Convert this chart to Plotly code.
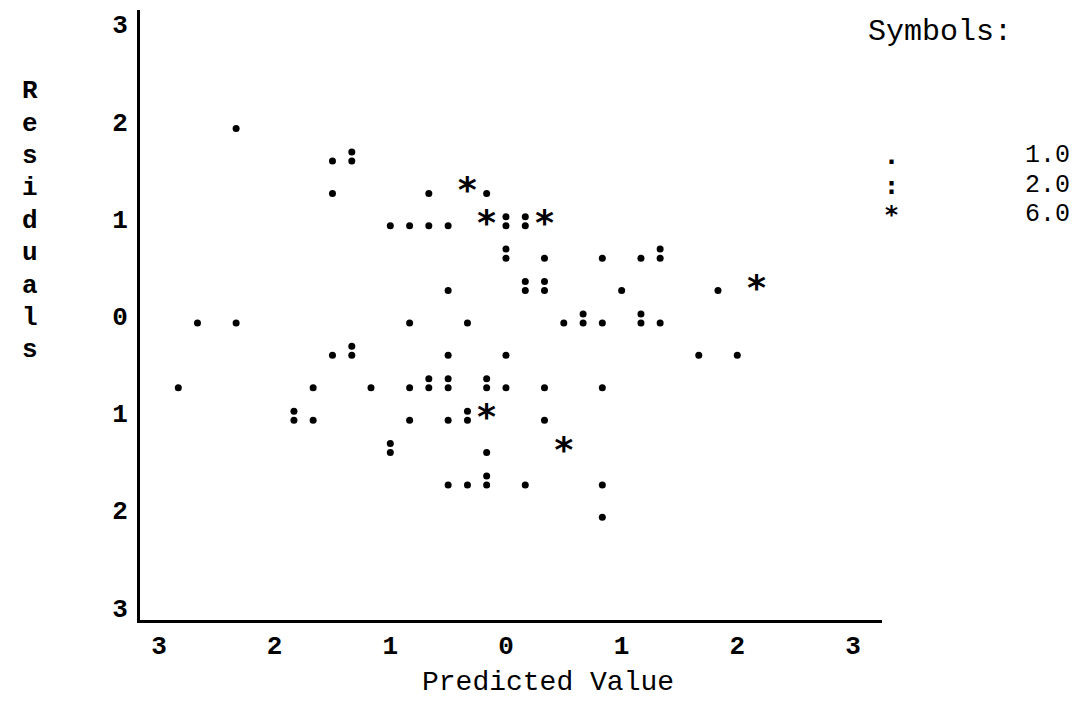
import plotly.graph_objects as go

# ---- data (x: predicted value, y: residual, n: cases at that cell) ----
predicted = [
    -2.333,
    -1.5, -1.333,
    -1.5, -0.667, -0.333, -0.167,
    -1.0, -0.833, -0.667, -0.5, -0.167, 0.0, 0.167, 0.333,
    0.0, 0.333, 0.833, 1.167, 1.333,
    -0.5, 0.167, 0.333, 1.0, 1.833, 2.167,
    -2.667, -2.333, -0.833, -0.333, 0.5, 0.667, 0.833, 1.167, 1.333,
    -1.5, -1.333, -0.5, 0.0, 1.667, 2.0,
    -2.833, -1.667, -1.167, -0.833, -0.667, -0.5, -0.167, 0.0, 0.333, 0.833,
    -1.833, -1.667, -0.833, -0.5, -0.333, -0.167, 0.333,
    -1.0, -0.167, 0.5,
    -0.5, -0.333, -0.167, 0.167, 0.833,
    0.833,
]
residual = [
    2.0,
    1.667, 1.667,
    1.333, 1.333, 1.333, 1.333,
    1.0, 1.0, 1.0, 1.0, 1.0, 1.0, 1.0, 1.0,
    0.667, 0.667, 0.667, 0.667, 0.667,
    0.333, 0.333, 0.333, 0.333, 0.333, 0.333,
    0.0, 0.0, 0.0, 0.0, 0.0, 0.0, 0.0, 0.0, 0.0,
    -0.333, -0.333, -0.333, -0.333, -0.333, -0.333,
    -0.667, -0.667, -0.667, -0.667, -0.667, -0.667, -0.667, -0.667, -0.667, -0.667,
    -1.0, -1.0, -1.0, -1.0, -1.0, -1.0, -1.0,
    -1.333, -1.333, -1.333,
    -1.667, -1.667, -1.667, -1.667, -1.667,
    -2.0,
]
cases = [
    1,
    1, 2,
    1, 1, 6, 1,
    1, 1, 1, 1, 6, 2, 2, 6,
    2, 1, 1, 1, 2,
    1, 2, 2, 1, 1, 6,
    1, 1, 1, 1, 1, 2, 1, 2, 1,
    1, 2, 1, 1, 1, 1,
    1, 1, 1, 1, 2, 2, 2, 1, 1, 1,
    2, 1, 1, 1, 2, 6, 1,
    2, 1, 6,
    1, 1, 2, 1, 1,
    1,
]

tick_vals = [-3, -2, -1, 0, 1, 2, 3]
x_tick_text = ["3", "2", "1", "0", "1", "2", "3"]
y_tick_text = ["3", "2", "1", "0", "1", "2", "3"]

legend_symbols = [".", ":", "*"]
legend_values = ["1.0", "2.0", "6.0"]
y_title_letters = list("Residuals")

# ---- styling ----
MONO = "Liberation Mono, Courier New, monospace"
SYMF = "DejaVu Sans Mono"
COLON_GAP = 0.093   # vertical gap between the two dots of ':' (axis units)

singles_x = [p for p, n in zip(predicted, cases) if n == 1]
singles_y = [r for r, n in zip(residual, cases) if n == 1]
dbl_x = [p for p, n in zip(predicted, cases) if n == 2]
dbl_y = [r for r, n in zip(residual, cases) if n == 2]
star_x = [p for p, n in zip(predicted, cases) if n == 6]
star_y = [r for r, n in zip(residual, cases) if n == 6]

fig = go.Figure()
dot = dict(symbol="circle", size=7, color="black", line=dict(width=0))
fig.add_trace(go.Scatter(x=singles_x, y=singles_y, mode="markers", marker=dot,
                         showlegend=False, hoverinfo="skip"))
fig.add_trace(go.Scatter(x=dbl_x + dbl_x,
                         y=dbl_y + [v + COLON_GAP for v in dbl_y],
                         mode="markers", marker=dot, showlegend=False, hoverinfo="skip"))
fig.add_trace(go.Scatter(x=star_x, y=star_y, mode="text", text=["*"] * len(star_x),
                         textposition="middle center",
                         textfont=dict(family=SYMF, size=36, color="black", weight="bold"),
                         showlegend=False, hoverinfo="skip"))

# the page body adds an 8px offset, so the plot box is placed 8px up/left
fig.update_layout(
    width=1080, height=719,
    margin=dict(l=132, r=206, t=2, b=107),
    paper_bgcolor="white", plot_bgcolor="white",
    showlegend=False,
    xaxis=dict(range=[-3.164, 3.251], tickvals=tick_vals, ticktext=x_tick_text,
               showgrid=False, zeroline=False, showline=True, linewidth=3,
               linecolor="black", ticks="", ticklabelstandoff=0,
               tickfont=dict(family=MONO, size=26, color="black", weight="bold")),
    yaxis=dict(range=[-3.056, 3.220], tickvals=tick_vals, ticktext=y_tick_text,
               showgrid=False, zeroline=False, showline=True, linewidth=3,
               linecolor="black", ticks="", ticklabelstandoff=4, ticklabelshift=-7,
               tickfont=dict(family=MONO, size=26, color="black", weight="bold")),
)

annotations = []
# vertical y-axis title, one letter per character row
for i, ch in enumerate(y_title_letters):
    annotations.append(dict(text=ch, xref="paper", yref="y", x=-0.148, y=(7 - i) / 3,
                            yshift=5, showarrow=False, xanchor="center", yanchor="middle",
                            font=dict(family=MONO, size=26, color="black", weight="bold")))
# x-axis title
annotations.append(dict(text="Predicted Value", xref="paper", yref="paper",
                        x=0.550, y=-0.103, showarrow=False, xanchor="center",
                        yanchor="middle", font=dict(family=MONO, size=28, color="black")))
# legend block
annotations.append(dict(text="Symbols:", xref="paper", yref="paper", x=1.078, y=0.964,
                        showarrow=False, xanchor="center", yanchor="middle",
                        font=dict(family=MONO, size=30, color="black")))
BIG = '<span style="font-size:25px">{}</span>'
sym_text = "<br>".join(BIG.format(s) for s in legend_symbols)
val_text = "<br>".join(BIG.format(v) for v in legend_values)
legend_y = 1 - (185 - 10) / 610
annotations.append(dict(text=sym_text, xref="paper", yref="paper", x=(891 - 140) / 742,
                        y=legend_y, showarrow=False, xanchor="center", yanchor="middle",
                        font=dict(family=SYMF, size=22.7, color="black", weight="bold")))
annotations.append(dict(text=val_text, xref="paper", yref="paper", x=(1047 - 140) / 742,
                        y=legend_y, showarrow=False, xanchor="center", yanchor="middle",
                        font=dict(family=MONO, size=22.7, color="black")))
fig.update_layout(annotations=annotations)

fig.write_html("out.html")
